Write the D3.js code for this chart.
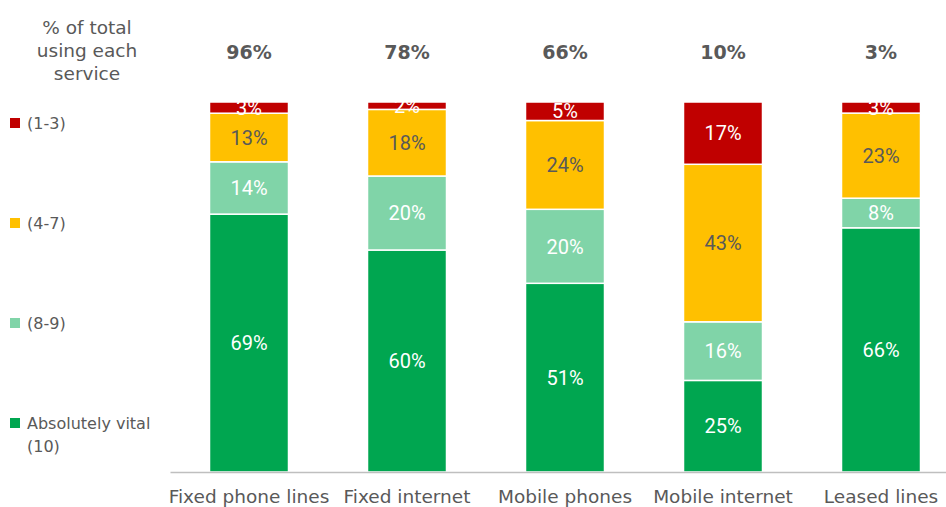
<!DOCTYPE html>
<html>
<head>
<meta charset="utf-8">
<script src="https://cdn.jsdelivr.net/npm/d3@7"></script>
<style>
  body { margin: 0; background: #fff; }
  svg { display: block; }
</style>
</head>
<body>
<div id="chart"></div>
<script>
// données
const services = ["Fixed phone lines", "Fixed internet", "Mobile phones", "Mobile internet", "Leased lines"];
const usage = ["96%", "78%", "66%", "10%", "3%"];
const vital = [69, 60, 51, 25, 66];     // Absolutely vital (10)
const high = [14, 20, 20, 16, 8];       // (8-9)
const mid = [13, 18, 24, 43, 23];       // (4-7)
const low = [3, 2, 5, 17, 3];           // (1-3)
const seriesNames = ["vital", "high", "mid", "low"];
const legendLabels = [["(1-3)"], ["(4-7)"], ["(8-9)"], ["Absolutely vital", "(10)"]];

const colors = { vital: "#00A650", high: "#80D4A8", mid: "#FFC000", low: "#C00000" };
const labelColor = { vital: "#fff", high: "#fff", mid: "#595959", low: "#fff" };
const grey = "#595959";

const W = 946, H = 507;
const baseY = 472, topY = 102;

const svg = d3.select("#chart").append("svg")
  .attr("width", W).attr("height", H);

const rows = services.map((s, i) => ({
  service: s, vital: vital[i], high: high[i], mid: mid[i], low: low[i]
}));

// stack normalisé (chaque colonne = 100%)
const stacked = d3.stack().keys(seriesNames).offset(d3.stackOffsetExpand)(rows);

const x = d3.scaleBand()
  .domain(services)
  .range([170, 960])
  .paddingInner(0.5)
  .paddingOuter(0.25);

const y = d3.scaleLinear().domain([0, 1]).range([baseY, topY]);

// barres
const groups = svg.append("g").selectAll("g")
  .data(stacked)
  .join("g")
    .attr("fill", d => colors[d.key]);

groups.selectAll("rect")
  .data(d => d.map(v => Object.assign(v, { key: d.key })))
  .join("rect")
    .attr("x", d => x(d.data.service))
    .attr("y", d => y(d[1]))
    .attr("width", x.bandwidth())
    .attr("height", d => y(d[0]) - y(d[1]))
    .attr("stroke", "#fff")
    .attr("stroke-width", 1.5);

// étiquettes des segments
groups.selectAll("text")
  .data(d => d)
  .join("text")
    .attr("x", d => x(d.data.service) + x.bandwidth() / 2)
    .attr("y", d => (y(d[0]) + y(d[1])) / 2)
    .attr("dy", "0.36em")
    .attr("text-anchor", "middle")
    .attr("fill", d => labelColor[d.key])
    .attr("font-family", "Roboto")
    .attr("font-size", 20)
    .text(d => d.data[d.key] + "%");

// axe X
const xAxis = svg.append("g")
  .attr("transform", `translate(0,${baseY})`)
  .call(d3.axisBottom(x).tickSize(0).tickPadding(18));
xAxis.select(".domain").attr("stroke", "#BFBFBF").attr("stroke-width", 1.5);
xAxis.selectAll("text")
  .attr("fill", grey)
  .attr("font-family", "DejaVu Sans")
  .attr("font-size", 18.5);

// % utilisateurs en haut
svg.append("g").selectAll("text")
  .data(services)
  .join("text")
    .attr("x", d => x(d) + x.bandwidth() / 2)
    .attr("y", 52)
    .attr("dy", "0.36em")
    .attr("text-anchor", "middle")
    .attr("fill", grey)
    .attr("font-family", "DejaVu Sans")
    .attr("font-weight", "bold")
    .attr("font-size", 19)
    .text((d, i) => usage[i]);

// titre à gauche
svg.append("text")
  .attr("text-anchor", "middle")
  .attr("fill", grey)
  .attr("font-family", "DejaVu Sans")
  .attr("font-size", 18.5)
  .selectAll("tspan")
  .data(["% of total", "using each", "service"])
  .join("tspan")
    .attr("x", 87)
    .attr("y", (d, i) => 27 + i * 23)
    .attr("dy", "0.36em")
    .text(d => d);

// légende
const legendKeys = ["low", "mid", "high", "vital"];
const legend = svg.append("g").selectAll("g")
  .data(legendKeys)
  .join("g")
    .attr("transform", (d, i) => `translate(10,${123 + i * 100})`);

legend.append("rect")
  .attr("x", 0).attr("y", -5)
  .attr("width", 10).attr("height", 10)
  .attr("fill", d => colors[d]);

legend.append("text")
  .attr("fill", grey)
  .attr("font-family", "DejaVu Sans")
  .attr("font-size", 16)
  .selectAll("tspan")
  .data((d, i) => legendLabels[i])
  .join("tspan")
    .attr("x", 17)
    .attr("y", (d, i) => i * 23)
    .attr("dy", "0.36em")
    .text(d => d);
</script>
</body>
</html>
